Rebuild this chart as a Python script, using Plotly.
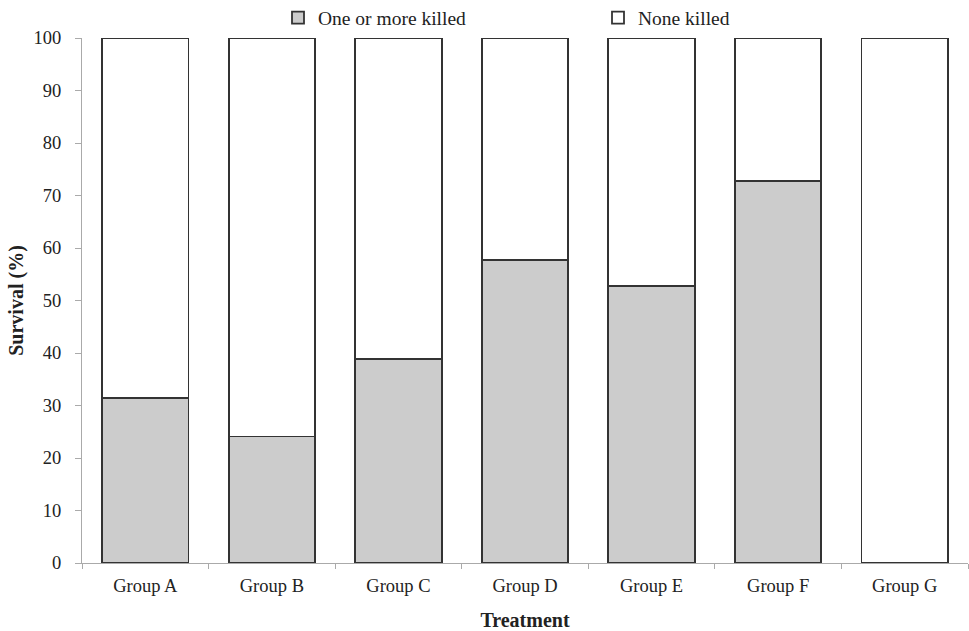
import plotly.graph_objects as go

groups = ["Group A", "Group B", "Group C", "Group D", "Group E", "Group F", "Group G"]
killed = [31.4, 24.1, 38.9, 57.7, 52.7, 72.8, 0.0]
none_killed = [round(100 - v, 1) for v in killed]

font_family = "Liberation Serif, Times New Roman, serif"
line_col = "#333333"

fig = go.Figure()
fig.add_trace(go.Bar(
    x=groups, y=killed, name="One or more killed",
    marker=dict(color="#cccccc", line=dict(color=line_col, width=1.8)),
))
fig.add_trace(go.Bar(
    x=groups, y=none_killed, name="None killed",
    marker=dict(color="#ffffff", line=dict(color=line_col, width=1.8)),
))

fig.update_layout(
    barmode="stack",
    bargap=0.317,
    width=969, height=631,
    margin=dict(l=82, r=1, t=38, b=68, autoexpand=False),
    paper_bgcolor="white", plot_bgcolor="white",
    font=dict(family=font_family, size=18.5, color="#222222"),
    showlegend=True,
    legend=dict(orientation="h", x=(278 - 82) / 886, y=1 - 18 / 631, xref="paper", yref="container",
                xanchor="left", yanchor="middle",
                entrywidth=275, entrywidthmode="pixels",
                font=dict(size=19.5), traceorder="normal", bgcolor="rgba(0,0,0,0)"),
)
fig.update_xaxes(
    showline=True, linecolor="#aaaaaa", linewidth=1,
    ticks="outside", tickson="boundaries", ticklen=5, tickcolor="#aaaaaa",
    title=dict(text="<b>Treatment</b>", font=dict(size=20), standoff=26),
    tickfont=dict(size=18.5), automargin=False, ticklabelstandoff=6,
)
fig.update_yaxes(
    range=[0, 100], dtick=10, showgrid=False, zeroline=False,
    showline=True, linecolor="#aaaaaa", linewidth=1,
    ticks="outside", ticklen=6, tickcolor="#aaaaaa",
    title=dict(text="<b>Survival (%)</b>", font=dict(size=20), standoff=4),
    tickfont=dict(size=18.5), automargin=False, ticklabelstandoff=10,
)

fig.write_html("out.html", config={"displayModeBar": False},
               post_script="document.body.style.margin='0';")
